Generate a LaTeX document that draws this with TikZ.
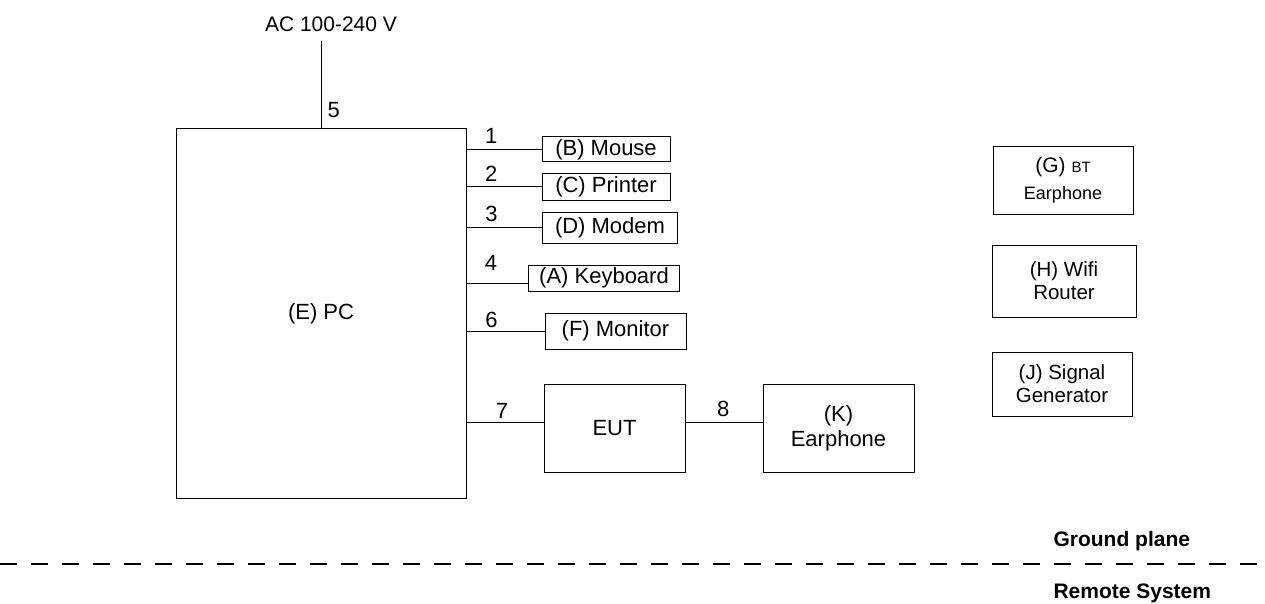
\documentclass[tikz,border=0pt]{standalone}
\usepackage{fontspec}
\setmainfont{Liberation Sans}
\usetikzlibrary{positioning,calc}

\begin{document}
\begin{tikzpicture}[
    x=1pt, y=-1pt,
    font=\fontsize{22}{25}\selectfont,
    unit/.style={draw, line width=1pt, inner sep=0pt, align=center},
    wire/.style={line width=1pt},
    num/.style={above, inner sep=5pt},
    ground/.style={line width=2.8pt, dash pattern=on 17pt off 14pt},
    plane/.style={anchor=west, font=\fontsize{21}{24}\selectfont\bfseries}
]
\useasboundingbox (0,0) rectangle (1265,604);

% PC with mains supply
\node[unit, minimum width=290, minimum height=369] (pc) at (321,313.5) {(E) PC};
\node[font=\fontsize{21}{24}\selectfont] (ac) at (331,24) {AC 100-240 V};
\coordinate (acin) at (321,41);
\draw[wire] (acin) -- node[right, pos=.79, inner sep=6pt] (n5) {5} (pc.north);

% Peripherals (right of PC)
\node[unit, minimum width=128, minimum height=25] (mouse) at (606,149.5) {(B) Mouse};
\node[unit, minimum width=128, minimum height=26] (printer) at (606,187) {(C) Printer};
\node[unit, minimum width=135, minimum height=31] (modem) at (610,227.5) {(D) Modem};
\node[unit, minimum width=151, minimum height=26] (kbd) at (604,278) {(A) Keyboard};
\node[unit, minimum width=141, minimum height=36] (monitor) at (615.5,331) {(F) Monitor};

\draw[wire] (pc.east |- mouse) -- node[num, pos=.33] (n1) {1} (mouse);
\draw[wire] (pc.east |- printer) -- node[num, pos=.33] (n2) {2} (printer);
\draw[wire] (pc.east |- modem) -- node[num, pos=.33] (n3) {3} (modem);
\coordinate (kbdin) at ($(kbd.west)+(0,5)$);
\draw[wire] (pc.east |- kbdin) -- node[num, pos=.4, yshift=7pt] (n4) {4} (kbdin);
\draw[wire] (pc.east |- monitor) -- node[num, pos=.32, yshift=-2pt] (n6) {6} (monitor);

% EUT and wired earphone
\node[unit, minimum width=141, minimum height=88] (eut) at (614.5,428) {EUT};
\node[unit, minimum width=151, minimum height=88] (earK) at (838.5,428) {(K)\\Earphone};
\coordinate (eutin) at ($(eut.west)+(0,-6)$);
\coordinate (eutout) at ($(eut.east)+(0,-6)$);
\draw[wire] (pc.east |- eutin) -- node[num, pos=.46, yshift=-2pt] (n7) {7} (eutin);
\draw[wire] (eutout) -- node[num, pos=.49] (n8) {8} (earK.west |- eutout);

% Wireless units
\node[unit, minimum width=140, minimum height=67, font=\fontsize{21}{27}\selectfont] (btear) at (1063,180.5)
  {(G) {\fontsize{15}{17}\selectfont BT}\\{\fontsize{18}{20}\selectfont Earphone}};
\node[unit, minimum width=144, minimum height=72, font=\fontsize{20.5}{23}\selectfont] (wifi) at (1064,281) {(H) Wifi\\Router};
\node[unit, minimum width=140, minimum height=64, font=\fontsize{20.5}{23}\selectfont] (siggen) at (1062,384) {(J) Signal\\Generator};

% Ground plane
\draw[ground] (0,564) -- (1265,564);
\node[plane] (gnd) at (1050,541) {Ground plane};
\node[plane] (remote) at (1050,593) {Remote System};

\end{tikzpicture}
\end{document}
